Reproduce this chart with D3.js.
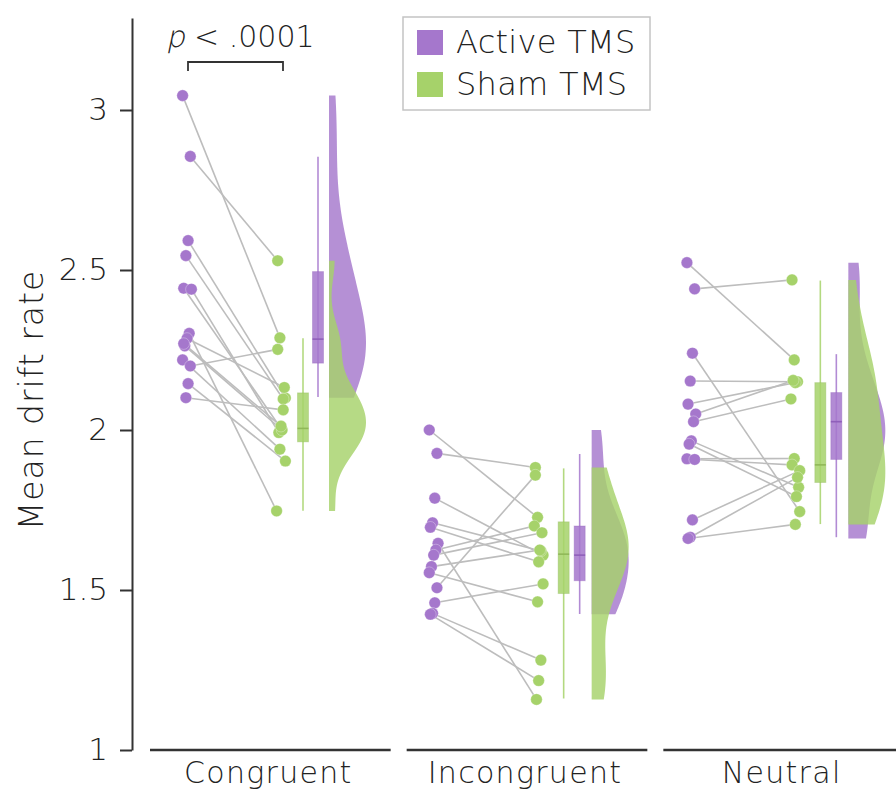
<!DOCTYPE html>
<html>
<head>
<meta charset="utf-8">
<script src="https://cdn.jsdelivr.net/npm/d3@7"></script>
<style>
  body { margin: 0; background: #fff; }
  svg text { font-family: "DejaVu Sans", "Lato", sans-serif; font-weight: 200; fill: #222; }
</style>
</head>
<body>
<svg id="chart" width="896" height="792"></svg>
<script>
// data
const conditions = ["Congruent", "Incongruent", "Neutral"];
const groups = ["Active TMS", "Sham TMS"];
const yTicks = [1, 1.5, 2, 2.5, 3];

// paired values per participant (same index = same participant)
const activeCongruent   = [3.045, 2.855, 2.592, 2.545, 2.443, 2.440, 2.302, 2.286, 2.263, 2.219, 2.200, 2.145, 2.101, 2.270];
const shamCongruent     = [2.288, 2.529, 2.100, 2.097, 2.005, 1.992, 1.747, 2.133, 2.000, 1.940, 2.252, 1.903, 2.063, 2.012];
const activeIncongruent = [2.000, 1.927, 1.787, 1.710, 1.696, 1.646, 1.625, 1.609, 1.573, 1.554, 1.507, 1.460, 1.427, 1.424];
const shamIncongruent   = [1.727, 1.883, 1.609, 1.622, 1.588, 1.158, 1.700, 1.679, 1.625, 1.463, 1.859, 1.519, 1.281, 1.217];
const activeNeutral     = [2.523, 2.441, 2.240, 2.153, 2.081, 2.050, 2.026, 1.966, 1.956, 1.910, 1.908, 1.719, 1.665, 1.661];
const shamNeutral       = [2.219, 2.469, 1.745, 2.151, 2.148, 2.155, 2.097, 1.821, 1.792, 1.911, 1.891, 1.873, 1.852, 1.705];

// box summaries: [lower whisker, q1, median, q3, upper whisker]
const activeBox = [[2.103, 2.209, 2.284, 2.495, 2.854], [1.425, 1.529, 1.609, 1.700, 1.925], [1.665, 1.908, 2.026, 2.117, 2.237]];
const shamBox   = [[1.748, 1.963, 2.005, 2.116, 2.287], [1.161, 1.489, 1.612, 1.713, 1.880], [1.706, 1.836, 1.891, 2.148, 2.467]];

const pLabel = "< .0001";

// layout
const ACTIVE_COL = "#a577cc";
const SHAM_COL = "#a6d26a";
const ACTIVE_DARK = "#8f5fba";
const SHAM_DARK = "#90b858";
const VIOLIN_W = 37;
const BW_ADJUST = 1.3;
// offsets inside each panel (from panel left)
const offActive = [37, 27, 28];
const offSham = [131, 132, 132];
const offShamBox = [153, 157, 157];
const offActiveBox = [168, 173, 173];
const offViolin = [179, 185, 185];

const svg = d3.select("#chart");
const actives = [activeCongruent, activeIncongruent, activeNeutral];
const shams = [shamCongruent, shamIncongruent, shamNeutral];

const y = d3.scaleLinear().domain([1, 3.2875]).range([750, 18]);
const x = d3.scaleBand().domain(conditions).range([150, 920]).padding(0);

function jit(i, k) { return (((i * 7 + k * 3) % 9) - 4) * 1.1; }

// kernel density (gaussian, silverman bandwidth)
function density(values) {
  const s = values.slice().sort(d3.ascending);
  const n = s.length;
  const sd = d3.deviation(s);
  const iqr = d3.quantile(s, 0.75) - d3.quantile(s, 0.25);
  const bw = BW_ADJUST * 0.9 * Math.min(sd, iqr / 1.34) * Math.pow(n, -0.2);
  const lo = s[0], hi = s[n - 1];
  const pts = d3.range(0, 101).map(k => lo + (hi - lo) * k / 100);
  return pts.map(v => [v, d3.mean(s, d => Math.exp(-0.5 * ((v - d) / bw) ** 2)) / (bw * Math.sqrt(2 * Math.PI))]);
}

// y axis
svg.append("g")
  .attr("transform", "translate(132,0)")
  .call(d3.axisLeft(y).tickValues(yTicks).tickFormat(d3.format("~g")).tickSize(12).tickSizeOuter(0).tickPadding(12))
  .call(g => g.selectAll("path, line").attr("stroke", "#333").attr("stroke-width", 2))
  .call(g => g.selectAll("text").style("font-size", "31px").attr("fill", "#222"));

svg.append("text")
  .attr("transform", "translate(43,400) rotate(-90)")
  .attr("text-anchor", "middle")
  .style("font-size", "33px")
  .style("letter-spacing", "1px")
  .text("Mean drift rate");

// x segments + labels
conditions.forEach(function(c, i){
  const x0 = x(c);
  svg.append("line")
    .attr("x1", x0).attr("x2", x0 + x.bandwidth() - 16)
    .attr("y1", 750).attr("y2", 750)
    .attr("stroke", "#333").attr("stroke-width", 2.5);
  svg.append("text")
    .attr("x", x0 + (x.bandwidth() - 16) / 2 - 2)
    .attr("y", 783)
    .attr("text-anchor", "middle")
    .style("font-size", "30px")
    .style("letter-spacing", "1.3px")
    .text(c);
});

// each panel
conditions.forEach(function(c, i){
  const x0 = x(c);
  const a = actives[i], s = shams[i];
  const g = svg.append("g");

  // pair lines
  g.selectAll(".pair")
    .data(a)
    .enter()
    .append("line")
    .attr("x1", (d, j) => x0 + offActive[i] + jit(j, 0))
    .attr("y1", d => y(d))
    .attr("x2", (d, j) => x0 + offSham[i] + jit(j, 1))
    .attr("y2", (d, j) => y(s[j]))
    .attr("stroke", "#bdbdbd").attr("stroke-width", 1.6);

  // points
  g.selectAll(".pa")
    .data(a)
    .enter()
    .append("circle")
    .attr("cx", (d, j) => x0 + offActive[i] + jit(j, 0))
    .attr("cy", d => y(d))
    .attr("r", 5.8)
    .attr("fill", ACTIVE_COL)
    .attr("stroke", "#fff").attr("stroke-opacity", 0.5).attr("stroke-width", 0.6);
  g.selectAll(".ps")
    .data(s)
    .enter()
    .append("circle")
    .attr("cx", (d, j) => x0 + offSham[i] + jit(j, 1))
    .attr("cy", d => y(d))
    .attr("r", 5.8)
    .attr("fill", SHAM_COL)
    .attr("stroke", "#fff").attr("stroke-opacity", 0.5).attr("stroke-width", 0.6);

  // boxes
  [[shamBox[i], offShamBox[i], SHAM_COL, SHAM_DARK], [activeBox[i], offActiveBox[i], ACTIVE_COL, ACTIVE_DARK]].forEach(function(b){
    const st = b[0], cx = x0 + b[1];
    g.append("line")
      .attr("x1", cx).attr("x2", cx)
      .attr("y1", y(st[0])).attr("y2", y(st[4]))
      .attr("stroke", b[2]).attr("stroke-opacity", 0.85).attr("stroke-width", 1.6);
    g.append("rect")
      .attr("x", cx - 5.5).attr("width", 11)
      .attr("y", y(st[3])).attr("height", y(st[1]) - y(st[3]))
      .attr("fill", b[2]).attr("fill-opacity", 0.85)
      .attr("stroke", b[3]).attr("stroke-opacity", 0.35).attr("stroke-width", 1);
    g.append("line")
      .attr("x1", cx - 5.5).attr("x2", cx + 5.5)
      .attr("y1", y(st[2])).attr("y2", y(st[2]))
      .attr("stroke", b[3]).attr("stroke-width", 1.6);
  });

  // half violins
  const base = x0 + offViolin[i];
  [[a, ACTIVE_COL], [s, SHAM_COL]].forEach(function(v){
    const dens = density(v[0]);
    const w = d3.scaleLinear().domain([0, d3.max(dens, d => d[1])]).range([0, VIOLIN_W]);
    g.append("path")
      .datum(dens)
      .attr("d", d3.area().curve(d3.curveBasis)
        .y(d => y(d[0]))
        .x0(base)
        .x1(d => base + w(d[1])))
      .attr("fill", v[1]).attr("fill-opacity", 0.82);
  });
});

// significance bracket on Congruent
(function(){
  const x0 = x(conditions[0]);
  const xa = x0 + offActive[0] + 1, xs = x0 + offSham[0] + 2;
  svg.append("path")
    .attr("d", "M" + xa + ",71V62H" + xs + "V71")
    .attr("fill", "none").attr("stroke", "#333").attr("stroke-width", 1.8);
  // italic p drawn by skewing the light upright glyph
  svg.append("g")
    .attr("transform", "translate(166,47) skewX(-12)")
    .append("text")
    .style("font-size", "30px")
    .text("p");
  svg.append("text")
    .attr("x", 194)
    .attr("y", 47)
    .style("font-size", "30px")
    .text(pLabel);
})();

// legend
const lg = svg.append("g").attr("transform", "translate(403,17)");
lg.append("rect")
  .attr("width", 247).attr("height", 93)
  .attr("fill", "#fff").attr("stroke", "#c4c4c4").attr("stroke-width", 1.5);
lg.selectAll(".sw")
  .data(groups)
  .enter()
  .append("rect")
  .attr("x", 14).attr("y", (d, i) => 13 + i * 42)
  .attr("width", 26).attr("height", 25)
  .attr("fill", (d, i) => i === 0 ? ACTIVE_COL : SHAM_COL);
lg.selectAll(".lt")
  .data(groups)
  .enter()
  .append("text")
  .attr("x", 53).attr("y", (d, i) => 36 + i * 42)
  .style("font-size", "32px")
  .style("letter-spacing", "0.3px")
  .text(d => d);
</script>
</body>
</html>
